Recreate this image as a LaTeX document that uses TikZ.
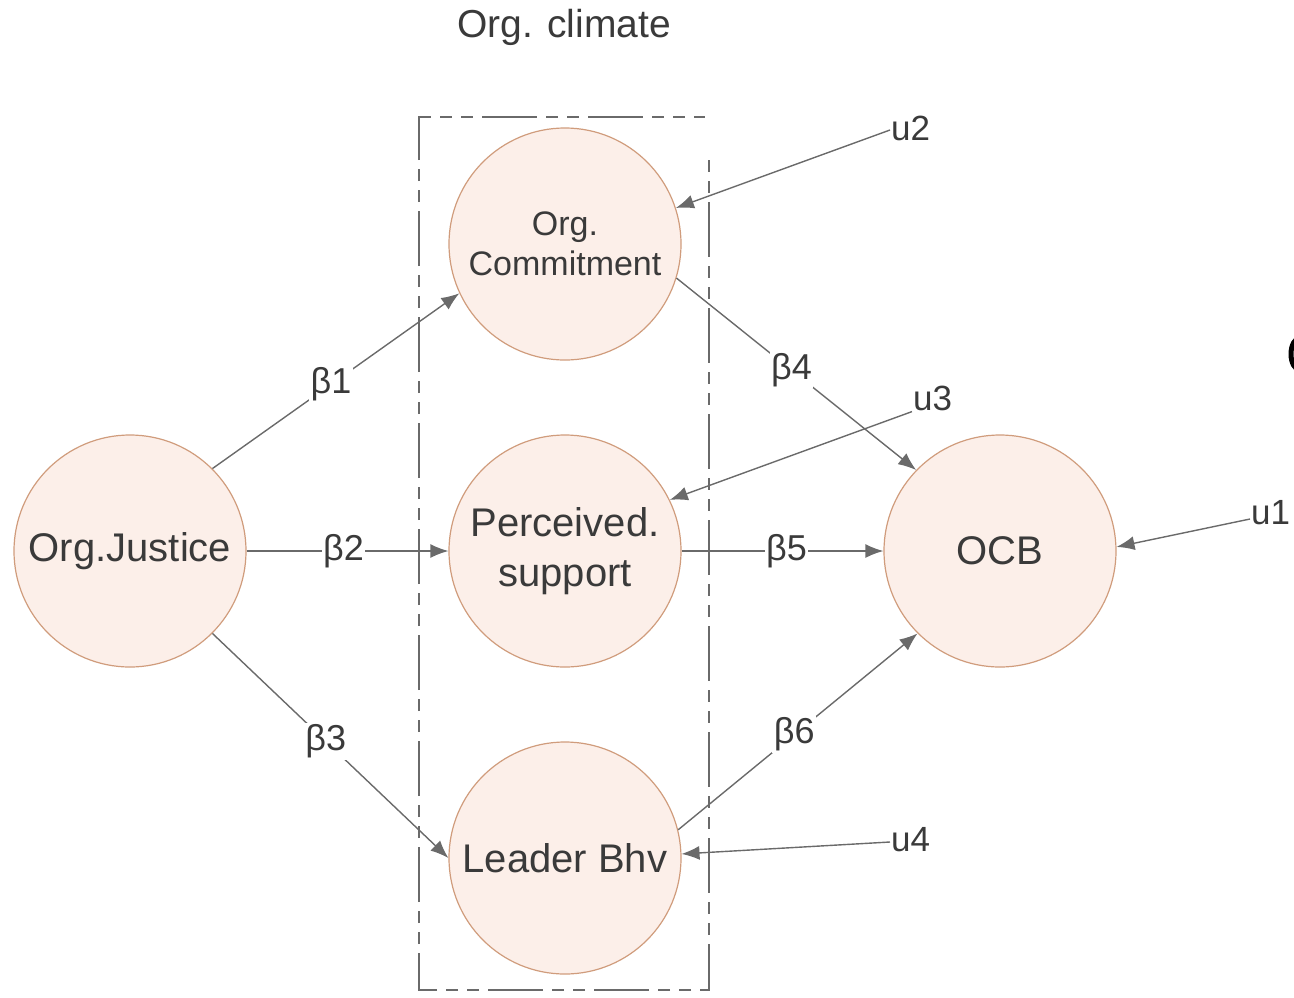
\documentclass[tikz,border=0pt]{standalone}
\usepackage{fontspec}
\setmainfont{Liberation Sans}
\usetikzlibrary{arrows.meta}
\definecolor{circfill}{HTML}{FCEFE9}
\definecolor{circline}{HTML}{D09C7C}
\definecolor{linkgray}{HTML}{6A6A6A}
\definecolor{txt}{HTML}{3A3A3A}
\begin{document}
\begin{tikzpicture}[x=1pt,y=-1pt,
  construct/.style={circle, draw=circline, fill=circfill, line width=1.2pt,
    minimum size=232pt, inner sep=0pt, align=center, text=txt,
    font=\fontsize{40}{50}\selectfont},
  link/.style={draw=linkgray, line width=1.4pt,
    -{Latex[length=18pt,width=14pt]}},
  coef/.style={fill=white, inner sep=1.5pt, text=txt,
    font=\fontsize{36}{40}\selectfont},
  errlbl/.style={text=txt, inner sep=1pt, font=\fontsize{35}{40}\selectfont},
  groupbox/.style={draw=linkgray, line width=1.5pt,
    dash pattern=on 12pt off 9pt on 12pt off 9pt on 55pt off 9pt}]
\useasboundingbox (0,0) rectangle (1294,997);

% group frame and its title
\draw[groupbox] (709,160) -- (709,990) -- (419,990) -- (419,117) -- (705,117);
\node[text=txt, font=\fontsize{39}{44}\selectfont] (climate) at (564,27) {Org. climate};

% constructs
\node[construct] (J) at (130,551) {Org.Justice};
\node[construct, font=\fontsize{34}{40}\selectfont] (C) at (565,244) {Org.\\Commitment};
\node[construct] (P) at (565,551) {Perceived.\\support};
\node[construct] (L) at (565,858) {Leader Bhv};
\node[construct] (O) at (1000,551) {OCB};

% error terms
\node[errlbl, anchor=west] (u2) at (890,128) {u2};
\node[errlbl, anchor=west] (u3) at (912,398) {u3};
\node[errlbl, anchor=west] (u1) at (1250,513) {u1};
\node[errlbl, anchor=west] (u4) at (890,840) {u4};

% paths
\draw[link] (J.45) -- node[coef, pos=0.48] (b1) {β1} (C.205);
\draw[link] (J.east) -- node[coef, pos=0.48] (b2) {β2} (P.west);
\draw[link] (J.-45) -- node[coef, pos=0.48] (b3) {β3} (L.180);
\draw[link] (C.-17) -- node[coef, pos=0.48] (b4) {β4} (O.136);
\draw[link] (P.east) -- node[coef, pos=0.52] (b5) {β5} (O.west);
\draw[link] (L.14) -- node[coef, pos=0.485] (b6) {β6} (O.225);

\draw[link] ([yshift=-2pt]u2.west) -- (C.18);
\draw[link] (u3.south west) -- (P.26);
\draw[link] ([yshift=-6pt]u1.west) -- (O.2);
\draw[link] ([yshift=-2pt]u4.west) -- (L.2);

% partial mark at the right edge
\draw[line width=5pt, black] (1300,338) arc[start angle=90, end angle=270, x radius=9pt, y radius=16pt];
\end{tikzpicture}
\end{document}
